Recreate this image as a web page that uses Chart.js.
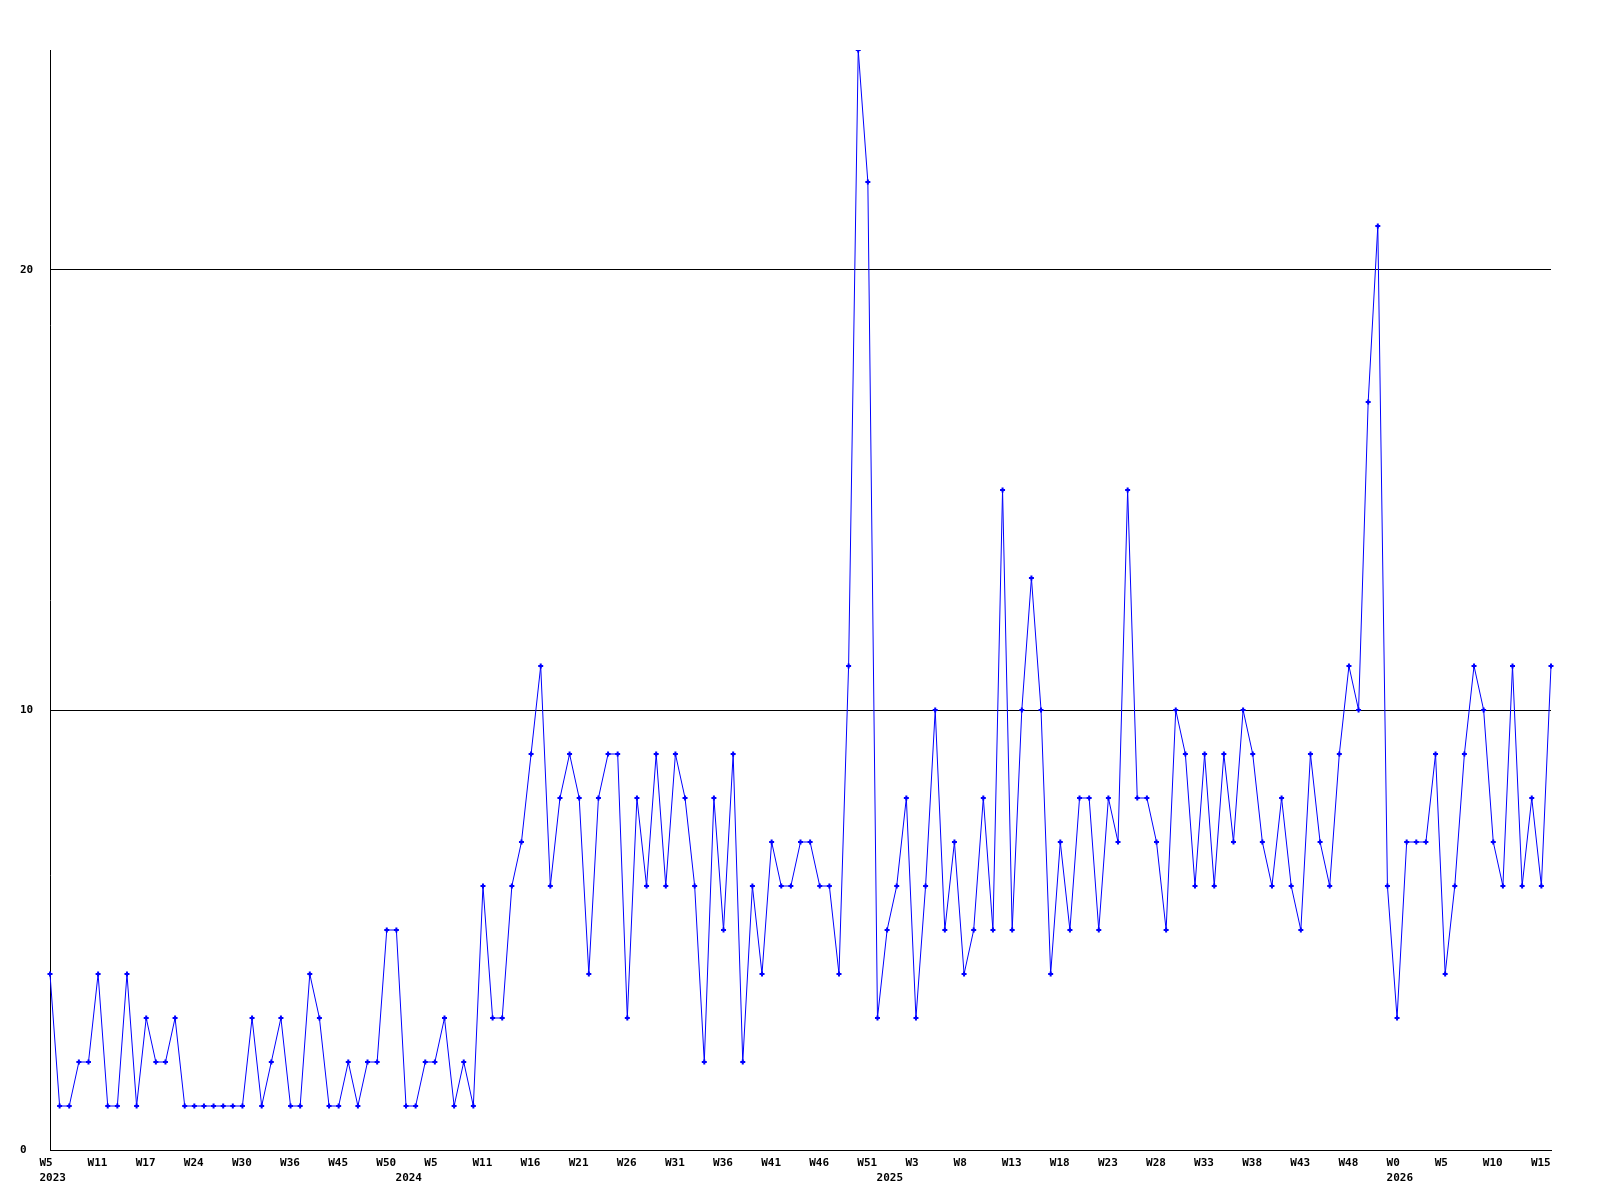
<!DOCTYPE html>
<html>
<head>
<meta charset="utf-8">
<script src="https://cdn.jsdelivr.net/npm/chart.js@4.4.0/dist/chart.umd.min.js"></script>
<style>
  html, body { margin: 0; padding: 0; background: #fff; }
</style>
</head>
<body>
<canvas id="weeklyChart" width="1600" height="1200"></canvas>
<script>
// week number of every point, 2023 W5 .. 2026 W16 (some weeks missing in 2023/2024)
const weeks = [
  5, 6, 7, 8, 9, 11, 12, 13, 14, 15, 17, 18, 19, 20, 22, 24, 25, 26, 27, 28,
  30, 31, 32, 33, 35, 36, 37, 39, 41, 43, 45, 46, 47, 48, 49, 50, 51,
  1, 2, 3, 5, 6, 7, 8, 10, 11, 12, 13, 14, 15, 16, 17, 18, 19, 20, 21, 22, 23,
  24, 25, 26, 27, 28, 29, 30, 31, 32, 33, 34, 35, 36, 37, 38, 39, 40, 41, 42,
  43, 44, 45, 46, 47, 48, 49, 50, 51, 52,
  0, 1, 2, 3, 4, 5, 6, 7, 8, 9, 10, 11, 12, 13, 14, 15, 16, 17, 18, 19, 20,
  21, 22, 23, 24, 25, 26, 27, 28, 29, 30, 31, 32, 33, 34, 35, 36, 37, 38, 39,
  40, 41, 42, 43, 44, 45, 46, 47, 48, 49, 50, 51, 52,
  0, 1, 2, 3, 4, 5, 6, 7, 8, 9, 10, 11, 12, 13, 14, 15, 16
];

// index of the first point of each year -> year label
const yearStarts = { 0: '2023', 37: '2024', 87: '2025', 140: '2026' };

const counts = [
  4, 1, 1, 2, 2, 4, 1, 1, 4, 1,
  3, 2, 2, 3, 1, 1, 1, 1, 1, 1,
  1, 3, 1, 2, 3, 1, 1, 4, 3, 1,
  1, 2, 1, 2, 2, 5, 5, 1, 1, 2,
  2, 3, 1, 2, 1, 6, 3, 3, 6, 7,
  9, 11, 6, 8, 9, 8, 4, 8, 9, 9,
  3, 8, 6, 9, 6, 9, 8, 6, 2, 8,
  5, 9, 2, 6, 4, 7, 6, 6, 7, 7,
  6, 6, 4, 11, 25, 22, 3, 5, 6, 8,
  3, 6, 10, 5, 7, 4, 5, 8, 5, 15,
  5, 10, 13, 10, 4, 7, 5, 8, 8, 5,
  8, 7, 15, 8, 8, 7, 5, 10, 9, 6,
  9, 6, 9, 7, 10, 9, 7, 6, 8, 6,
  5, 9, 7, 6, 9, 11, 10, 17, 21, 6,
  3, 7, 7, 7, 9, 4, 6, 9, 11, 10,
  7, 6, 11, 6, 8, 6, 11
];

const yTicks = [0, 10, 20];
const yMax = 25;
const labelEvery = 5;

const labels = weeks.map(w => 'W' + w);
const tickFont = { family: '"DejaVu Sans Mono", "Liberation Mono", monospace', size: 11, weight: 'bold', lineHeight: 15 / 11 };

const ctx = document.getElementById('weeklyChart').getContext('2d');
const weeklyChart = new Chart(ctx, {
  type: 'line',
  data: {
    labels: labels,
    datasets: [{
      data: counts,
      borderColor: '#0000ff',
      backgroundColor: '#0000ff',
      borderWidth: 1,
      pointStyle: 'cross',
      pointRadius: 2.5,
      pointBorderWidth: 2,
      tension: 0,
      fill: false
    }]
  },
  options: {
    responsive: false,
    animation: false,
    layout: { padding: { left: 20, top: 50, right: 49, bottom: 0 } },
    plugins: {
      legend: { display: false },
      tooltip: { enabled: false }
    },
    scales: {
      x: {
        type: 'category',
        offset: false,
        grid: { display: false, drawTicks: false },
        border: { display: true, color: '#000', width: 1 },
        ticks: {
          autoSkip: false,
          maxRotation: 0,
          minRotation: 0,
          align: 'start',
          labelOffset: -10.5,
          padding: 6,
          color: '#000',
          font: tickFont,
          callback: function (val, i) {
            const week = i % labelEvery === 0 ? labels[i] : '';
            const year = yearStarts[i];
            return year ? [week, year] : week;
          }
        },
        afterFit: s => { s.height = 50; }
      },
      y: {
        min: 0,
        max: yMax,
        afterBuildTicks: s => { s.ticks = yTicks.map(v => ({ value: v })); },
        grid: { color: '#000', lineWidth: 1, drawTicks: false },
        border: { display: true, color: '#000', width: 1 },
        ticks: { crossAlign: 'far', padding: 0, color: '#000', font: tickFont },
        afterFit: s => { s.width = 30; }
      }
    }
  }
});
</script>
</body>
</html>
